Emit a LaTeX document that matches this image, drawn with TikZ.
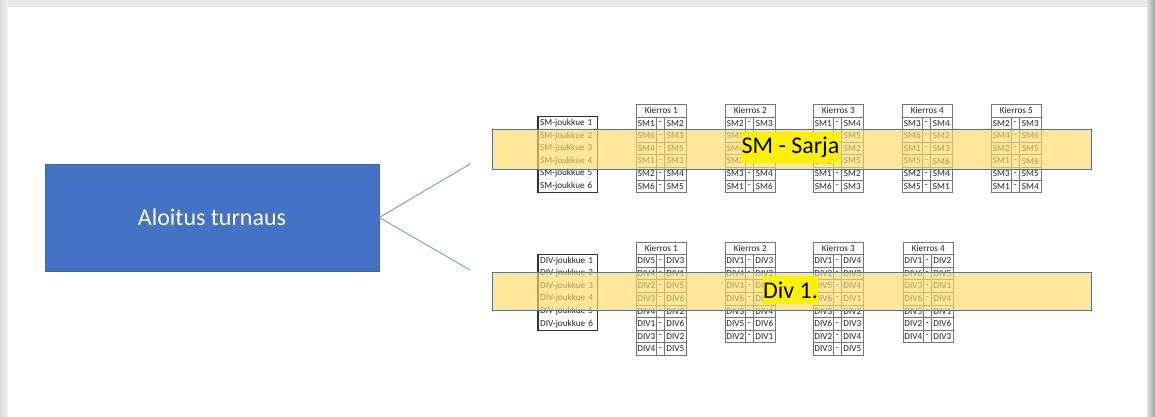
\documentclass[tikz,border=0pt]{standalone}
\usepackage{fontspec}
\setmainfont{Carlito}
\usetikzlibrary{positioning}

\definecolor{slideblue}{RGB}{68,114,196}
\definecolor{slideedge}{RGB}{64,100,170}
\definecolor{linkblue}{RGB}{132,160,214}
\definecolor{bandgold}{RGB}{255,217,102}
\definecolor{cellgray}{RGB}{118,118,118}

\tikzset{
  cell/.style={draw=cellgray, line width=0.6pt, inner sep=0pt, minimum height=12.6pt,
    anchor=north west, text=black!85, font=\fontsize{9.2}{11}\selectfont},
  team/.style={inner xsep=2pt, inner ysep=0pt, minimum height=12.6pt, text width=55pt,
    align=left, anchor=north west, text=black!85, font=\fontsize{9.2}{11}\selectfont},
  teambox/.style={draw=black!80, line width=1.2pt},
  band/.style={draw=slideblue, line width=0.7pt, fill=bandgold, fill opacity=0.65,
    inner sep=0pt, anchor=north west},
  tag/.style={fill=yellow, inner sep=0pt, font=\fontsize{24}{24}\selectfont},
  start/.style={fill=slideblue, draw=slideedge, line width=0.6pt, text=white,
    minimum width=334pt, minimum height=107pt, font=\fontsize{24}{24}\selectfont},
  link/.style={draw=linkblue, line width=1pt}
}

% one round: name, x, y (top), number, pairings
\newcommand{\kierros}[5]{%
  \node[cell, minimum width=50pt] (#1h) at (#2,#3) {Kierros #4};
  \foreach \a/\b [count=\i] in {#5} {
    \node[cell, minimum width=20pt] (#1-\i-a) at (#2,#3+\i*12.6) {\a};
    \node[cell, minimum width=8pt] (#1-\i-d) at (#2+20,#3+\i*12.6) {-};
    \node[cell, minimum width=22pt] (#1-\i-b) at (#2+28,#3+\i*12.6) {\b};
  }
}

\begin{document}
\begin{tikzpicture}[x=1pt, y=-1pt]
  \useasboundingbox (0,0) rectangle (1155,416);
  % slide and its shadow
  \fill[black!9] (0,0) rectangle (1155,416);
  \shade[left color=black!14, right color=black!6] (0,0) rectangle (8,416);
  \shade[left color=black!12, right color=black!38] (1147,0) rectangle (1155,416);
  \fill[white] (8,7) rectangle (1147,416);

  \node[start] (start) at (212,217.5) {Aloitus turnaus};
  \coordinate (smend) at (470,164);
  \coordinate (divend) at (470,270);
  \draw[link] (start.east) -- (smend);
  \draw[link] (start.east) -- (divend);

  % SM
  \foreach \t in {1,...,6}
    \node[team] (smt-\t) at (538,104+\t*12.6) {SM-joukkue \t};
  \draw[teambox] (smt-1.north west) rectangle (smt-6.south east);
  \kierros{sm1}{636}{104}{1}{SM1/SM2, SM6/SM3, SM4/SM5, SM1/SM3, SM2/SM4, SM6/SM5}
  \kierros{sm2}{725}{104}{2}{SM2/SM3, SM5/SM1, SM4/SM6, SM2/SM1, SM3/SM4, SM1/SM6}
  \kierros{sm3}{813}{104}{3}{SM1/SM4, SM3/SM5, SM4/SM2, SM6/SM5, SM1/SM2, SM6/SM3}
  \kierros{sm4}{902}{104}{4}{SM3/SM4, SM6/SM2, SM1/SM3, SM5/SM6, SM2/SM4, SM5/SM1}
  \kierros{sm5}{991}{104}{5}{SM2/SM3, SM4/SM6, SM2/SM5, SM1/SM6, SM3/SM5, SM1/SM4}

  % DIV
  \foreach \t in {1,...,6}
    \node[team] (divt-\t) at (538,241.5+\t*12.6) {DIV-joukkue \t};
  \draw[teambox] (divt-1.north west) rectangle (divt-6.south east);
  \kierros{div1}{636}{241.5}{1}{DIV5/DIV3, DIV4/DIV1, DIV2/DIV5, DIV3/DIV6, DIV4/DIV2, DIV1/DIV6, DIV3/DIV2, DIV4/DIV5}
  \kierros{div2}{725}{241.5}{2}{DIV1/DIV3, DIV4/DIV2, DIV1/DIV5, DIV6/DIV3, DIV3/DIV4, DIV5/DIV6, DIV2/DIV1}
  \kierros{div3}{813}{241.5}{3}{DIV1/DIV4, DIV2/DIV3, DIV5/DIV4, DIV6/DIV1, DIV3/DIV2, DIV6/DIV3, DIV2/DIV4, DIV3/DIV5}
  \kierros{div4}{903}{241.5}{4}{DIV1/DIV2, DIV6/DIV5, DIV3/DIV1, DIV6/DIV4, DIV5/DIV1, DIV2/DIV6, DIV4/DIV3}

  % bands over the tables
  \node[band, minimum width=599pt, minimum height=40pt] (smband) at (492,129) {};
  \node[band, minimum width=599pt, minimum height=38pt] (divband) at (492,272) {};
  \node[tag, minimum width=99pt, minimum height=31pt] (smtag) at (790.5,147.5) {SM - Sarja};
  \node[tag, minimum width=55pt, minimum height=28pt] (divtag) at (790.5,290) {Div 1.};
\end{tikzpicture}
\end{document}
